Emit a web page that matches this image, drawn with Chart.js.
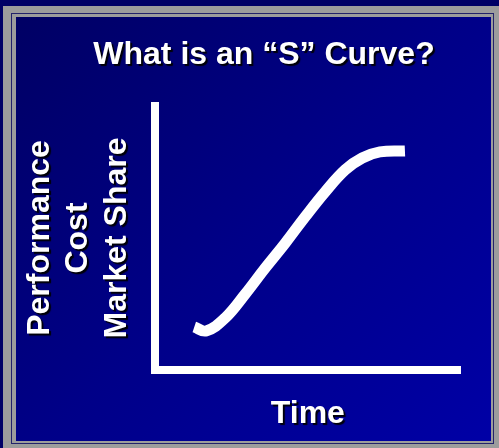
<!DOCTYPE html>
<html>
<head>
<meta charset="utf-8">
<script src="https://cdn.jsdelivr.net/npm/chart.js@4"></script>
<style>
  html, body { margin: 0; padding: 0; }
  body { width: 499px; height: 448px; overflow: hidden; position: relative; background: #000066; }
  .frame { position: absolute; left: 3px; top: 6px; width: 496px; height: 442px; background: #9c9c9c; }
  .frame-line { position: absolute; left: 11px; top: 13px; width: 481px; height: 429px; border: 1px solid #22226a; background: #9c9c9c; }
  .slide { position: absolute; left: 16px; top: 17px; width: 475px; height: 424px;
           background: linear-gradient(135deg, #000064 0%, #000088 50%, #0000a6 100%); }
  #wrap { position: absolute; left: 0; top: 0; width: 499px; height: 448px; }
</style>
</head>
<body>
<div class="frame"></div>
<div class="frame-line"></div>
<div class="slide"></div>
<div id="wrap"><canvas id="sCurve" width="499" height="448"></canvas></div>

<script>
// ─── Data ────────────────────────────────────────────────────
const chartTitle = 'What is an \u201cS\u201d Curve?';
const xTitle = 'Time';
const yTitle = ['Performance', 'Cost', 'Market Share'];

const timeValues  = [12.8, 16.7, 22.9, 29.5, 36.0, 42.6, 49.1, 55.6, 62.2, 67.8, 73.6, 81.8];
const curveValues = [16.3, 14.8, 19.7, 28.8, 38.6, 48.1, 58.0, 67.4, 75.8, 80.3, 82.6, 83.0];

const FONT = '"Liberation Sans", Arial, Helvetica, sans-serif';

// text gets a dark drop shadow, lines do not
const slideText = {
  id: 'slideText',
  beforeDraw(chart) {
    const ctx = chart.ctx;
    ctx.save();
    ctx.shadowColor = 'rgba(0,0,0,0.95)';
    ctx.shadowOffsetX = 2;
    ctx.shadowOffsetY = 2;
    ctx.shadowBlur = 1;
  },
  beforeDatasetsDraw(chart) {
    chart.ctx.restore();
  },
  afterDraw(chart) {
    const ctx = chart.ctx;
    ctx.save();
    ctx.shadowColor = 'rgba(0,0,0,0.95)';
    ctx.shadowOffsetX = 2;
    ctx.shadowOffsetY = 2;
    ctx.shadowBlur = 1;
    ctx.fillStyle = '#ffffff';
    ctx.font = 'bold 32px ' + FONT;
    ctx.textAlign = 'center';
    ctx.textBaseline = 'alphabetic';
    ctx.fillText(chartTitle, 264, 64);
    ctx.restore();
  }
};

const points = timeValues.map((t, i) => ({ x: t, y: curveValues[i] }));

new Chart(document.getElementById('sCurve').getContext('2d'), {
  type: 'line',
  data: {
    datasets: [{
      data: points,
      borderColor: '#ffffff',
      borderWidth: 11,
      borderCapStyle: 'butt',
      borderJoinStyle: 'round',
      tension: 0.4,
      pointRadius: 0,
      fill: false
    }]
  },
  options: {
    responsive: false,
    animation: false,
    events: [],
    layout: { padding: { left: 0, top: 106, right: 38.5, bottom: 14.6 } },
    plugins: {
      legend: { display: false },
      title: { display: false },
      tooltip: { enabled: false }
    },
    scales: {
      x: {
        type: 'linear',
        min: 0,
        max: 100,
        ticks: { display: false },
        grid: { display: false, drawTicks: false },
        border: { display: true, color: '#ffffff', width: 8, z: 1 },
        title: {
          display: true,
          text: xTitle,
          color: '#ffffff',
          font: { family: FONT, size: 32, weight: 'bold', lineHeight: 1.2 },
          padding: { top: 25, bottom: 0 }
        }
      },
      y: {
        type: 'linear',
        min: 0,
        max: 100,
        ticks: { display: false },
        grid: { display: false, drawTicks: false },
        border: { display: true, color: '#ffffff', width: 8, z: 1 },
        title: {
          display: true,
          text: yTitle,
          color: '#ffffff',
          font: { family: FONT, size: 32, weight: 'bold', lineHeight: 1.2 },
          padding: { top: 21, bottom: 19 }
        }
      }
    }
  },
  plugins: [slideText]
});
</script>
</body>
</html>
